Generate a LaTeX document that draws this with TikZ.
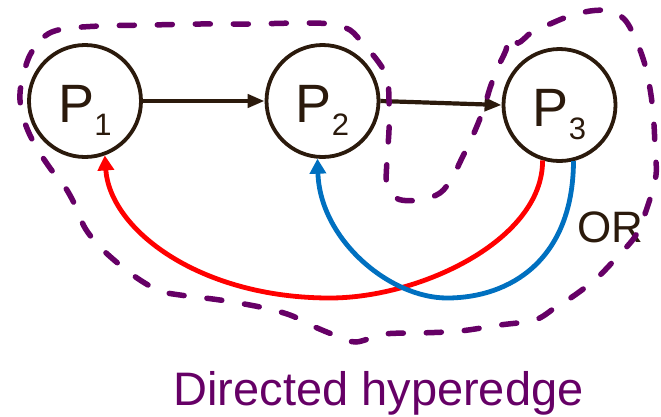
\documentclass[tikz,border=0pt]{standalone}
\usepackage{fontspec}
\setmainfont{Liberation Sans}
\usetikzlibrary{arrows.meta}
\definecolor{inkbrown}{HTML}{2B1A0C}
\definecolor{hyperpurple}{HTML}{660066}
\definecolor{arcred}{HTML}{FF0000}
\definecolor{arcblue}{HTML}{0070C0}
\begin{document}
\begin{tikzpicture}[x=1pt,y=-1pt,
  proc/.style={circle,draw=inkbrown,line width=3.8pt,minimum size=112pt,inner sep=0pt,
    text=inkbrown,text height=55pt,text depth=13pt,font=\fontsize{54}{54}\selectfont},
  flow/.style={draw=inkbrown,line width=4.2pt,-{Triangle[length=17pt,width=13pt]}},
  back/.style={line width=4.8pt,-{Triangle[length=15pt,width=16pt]}},
  hyper/.style={draw=hyperpurple,line width=5.5pt,line cap=round,dash pattern=on 15pt off 23pt}]
\useasboundingbox (0,0) rectangle (661,416);
\newcommand{\psub}[1]{P\raisebox{-13pt}{\fontsize{31}{31}\selectfont #1}}
\node[proc] (P1) at (85,101) {\psub{1}};
\node[proc] (P2) at (322.5,101) {\psub{2}};
\node[proc] (P3) at (559.5,105) {\psub{3}};
\draw[flow] (P1) -- (P2);
\draw[flow] (P2.east) -- (P3.west);
\draw[back,draw=arcred,color=arcred] (P3.-107) .. controls (543,240) and (420,298) .. (330,298)
  .. controls (200,298) and (110,230) .. (P1.-70);
\draw[back,draw=arcblue,color=arcblue] (P3.-76) .. controls (573,260) and (510,298) .. (447,298)
  .. controls (390,298) and (320,240) .. (P2.-95);
\node[anchor=base,text=inkbrown,font=\fontsize{44}{44}\selectfont,inner sep=0pt] (or) at (610,242) {OR};
\node[anchor=base,text=hyperpurple,font=\fontsize{47}{47}\selectfont,inner sep=0pt] (cap) at (378.5,405) {Directed hyperedge};
\draw[hyper] plot[smooth cycle,tension=0.55] coordinates {
 (30,55) (45,36) (63,29) (100,26) (150,25) (200,24) (250,24) (300,23) (330,24) (350,30)
 (364,45) (377,60) (387,77) (389,100) (389,130) (387,160) (387,185) (398,199) (420,200)
 (440,193) (452,178) (462,158) (474,133) (484,108) (490,88) (498,67) (506,50) (509,36)
 (518,43) (532,32) (550,24) (567,17) (590,11) (610,11) (625,20) (636,40) (645,65)
 (651,95) (654,125) (655,150) (656,175) (648,205) (636,235) (618,256) (598,277)
 (575,295) (556,307) (535,320) (500,325) (460,331) (420,333) (385,334) (356,342)
 (337,336) (315,327) (290,315) (260,307) (220,300) (180,295) (160,291) (140,280)
 (120,265) (100,247) (85,228) (75,205) (65,187) (50,168) (35,145) (25,123) (20,100)
 (22,80)};
\end{tikzpicture}
\end{document}
